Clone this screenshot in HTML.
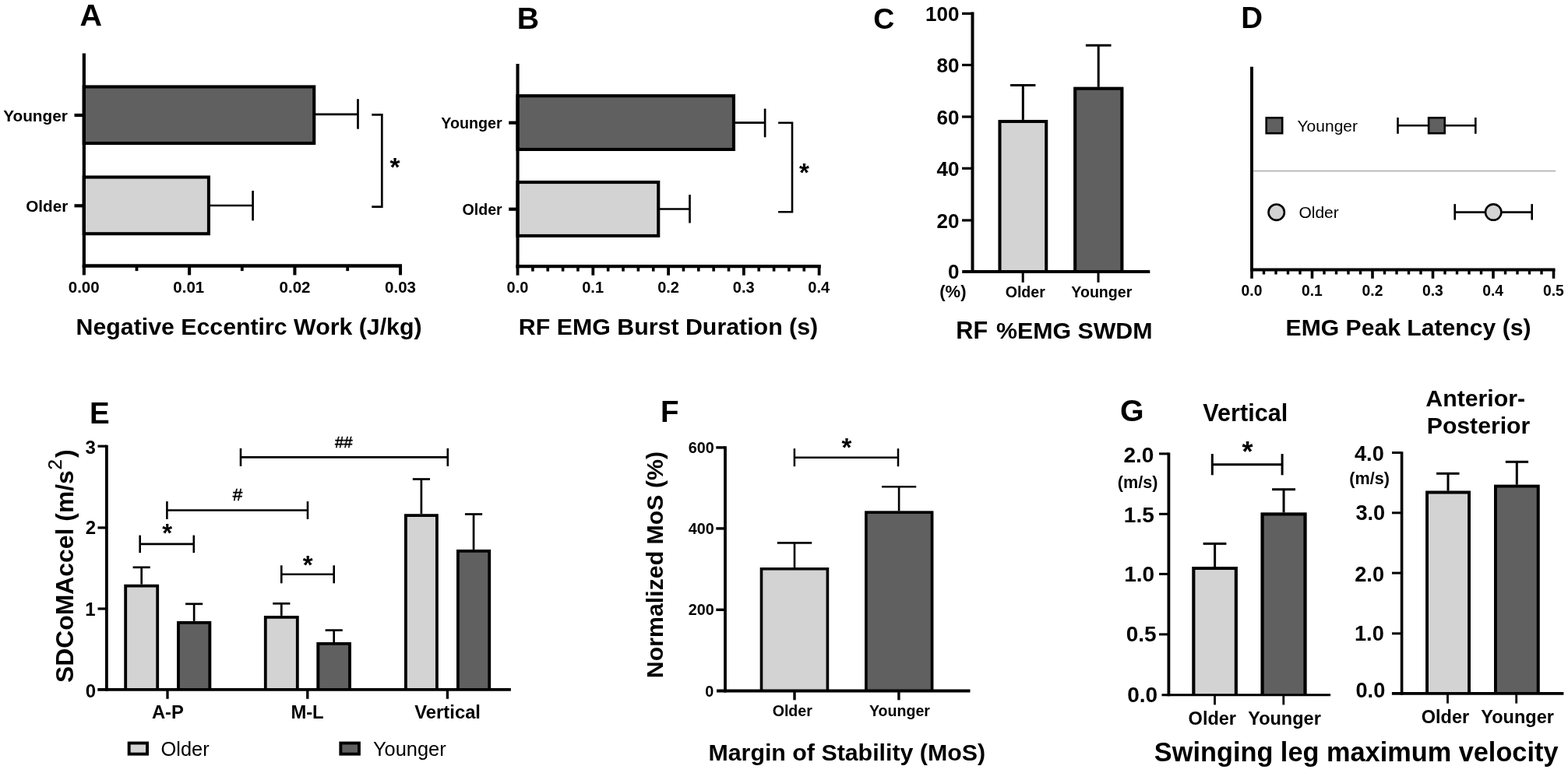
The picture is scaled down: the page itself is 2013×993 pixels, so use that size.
<!DOCTYPE html>
<html><head><meta charset="utf-8"><title>Figure</title>
<style>html,body{margin:0;padding:0;background:#fff;}svg{display:block;}</style></head>
<body><svg width="2013" height="993" viewBox="0 0 2013 993" font-family="Liberation Sans, Arial, Helvetica, sans-serif" fill="#000">
<rect x="0" y="0" width="2013" height="993" fill="#fff"/>
<text x="102.51" y="33.00" font-size="39.50" font-weight="bold">A</text>
<rect x="107.75" y="111.45" width="295.50" height="72.60" fill="#606060" stroke="#000" stroke-width="4.1"/>
<rect x="107.75" y="227.55" width="160.20" height="72.70" fill="#d3d3d3" stroke="#000" stroke-width="4.1"/>
<line x1="405.00" y1="146.90" x2="459.50" y2="146.90" stroke="#000" stroke-width="2.7" stroke-linecap="butt"/>
<line x1="459.50" y1="127.20" x2="459.50" y2="165.70" stroke="#000" stroke-width="2.7" stroke-linecap="butt"/>
<line x1="270.00" y1="264.00" x2="324.60" y2="264.00" stroke="#000" stroke-width="2.7" stroke-linecap="butt"/>
<line x1="324.60" y1="245.00" x2="324.60" y2="283.40" stroke="#000" stroke-width="2.7" stroke-linecap="butt"/>
<line x1="107.85" y1="68.40" x2="107.85" y2="343.90" stroke="#000" stroke-width="4.2" stroke-linecap="butt"/>
<line x1="105.75" y1="341.60" x2="516.00" y2="341.60" stroke="#000" stroke-width="4.5" stroke-linecap="butt"/>
<line x1="107.85" y1="341.60" x2="107.85" y2="353.40" stroke="#000" stroke-width="4.1" stroke-linecap="butt"/>
<line x1="243.10" y1="341.60" x2="243.10" y2="353.40" stroke="#000" stroke-width="4.1" stroke-linecap="butt"/>
<line x1="378.40" y1="341.60" x2="378.40" y2="353.40" stroke="#000" stroke-width="4.1" stroke-linecap="butt"/>
<line x1="514.00" y1="341.60" x2="514.00" y2="353.40" stroke="#000" stroke-width="4.1" stroke-linecap="butt"/>
<line x1="175.50" y1="341.60" x2="175.50" y2="348.10" stroke="#000" stroke-width="3.8" stroke-linecap="butt"/>
<line x1="310.80" y1="341.60" x2="310.80" y2="348.10" stroke="#000" stroke-width="3.8" stroke-linecap="butt"/>
<line x1="446.20" y1="341.60" x2="446.20" y2="348.10" stroke="#000" stroke-width="3.8" stroke-linecap="butt"/>
<line x1="95.50" y1="148.00" x2="107.85" y2="148.00" stroke="#000" stroke-width="4.2" stroke-linecap="butt"/>
<line x1="95.50" y1="264.30" x2="107.85" y2="264.30" stroke="#000" stroke-width="4.2" stroke-linecap="butt"/>
<path d="M477.3 147.4 H490.3 V265.6 H477.3" stroke="#000" stroke-width="2.7" fill="none" stroke-linejoin="miter"/>
<text x="500.42" y="226.15" font-size="33.50" font-weight="bold">*</text>
<text x="4.14" y="156.00" font-size="20.80" font-weight="bold">Younger</text>
<text x="33.17" y="271.70" font-size="20.70" font-weight="bold">Older</text>
<text x="87.76" y="376.30" font-size="20.50" font-weight="bold">0.00</text>
<text x="222.34" y="376.30" font-size="20.50" font-weight="bold">0.01</text>
<text x="358.56" y="376.30" font-size="20.50" font-weight="bold">0.02</text>
<text x="494.11" y="376.30" font-size="20.50" font-weight="bold">0.03</text>
<text x="97.55" y="430.00" font-size="30.30" font-weight="bold">Negative Eccentirc Work (J/kg)</text>
<text x="663.65" y="37.00" font-size="39.30" font-weight="bold">B</text>
<rect x="664.55" y="123.15" width="277.40" height="68.80" fill="#606060" stroke="#000" stroke-width="4.1"/>
<rect x="664.55" y="234.05" width="180.70" height="68.90" fill="#d3d3d3" stroke="#000" stroke-width="4.1"/>
<line x1="944.00" y1="157.60" x2="982.10" y2="157.60" stroke="#000" stroke-width="2.7" stroke-linecap="butt"/>
<line x1="982.10" y1="139.60" x2="982.10" y2="176.30" stroke="#000" stroke-width="2.7" stroke-linecap="butt"/>
<line x1="847.00" y1="268.50" x2="885.50" y2="268.50" stroke="#000" stroke-width="2.7" stroke-linecap="butt"/>
<line x1="885.50" y1="250.20" x2="885.50" y2="286.50" stroke="#000" stroke-width="2.7" stroke-linecap="butt"/>
<line x1="664.55" y1="82.00" x2="664.55" y2="344.60" stroke="#000" stroke-width="4.1" stroke-linecap="butt"/>
<line x1="662.50" y1="342.20" x2="1053.80" y2="342.20" stroke="#000" stroke-width="4.3" stroke-linecap="butt"/>
<line x1="664.55" y1="342.20" x2="664.55" y2="353.70" stroke="#000" stroke-width="3.8" stroke-linecap="butt"/>
<line x1="761.32" y1="342.20" x2="761.32" y2="353.70" stroke="#000" stroke-width="3.8" stroke-linecap="butt"/>
<line x1="858.09" y1="342.20" x2="858.09" y2="353.70" stroke="#000" stroke-width="3.8" stroke-linecap="butt"/>
<line x1="954.86" y1="342.20" x2="954.86" y2="353.70" stroke="#000" stroke-width="3.8" stroke-linecap="butt"/>
<line x1="1051.63" y1="342.20" x2="1051.63" y2="353.70" stroke="#000" stroke-width="3.8" stroke-linecap="butt"/>
<line x1="683.90" y1="342.20" x2="683.90" y2="348.60" stroke="#000" stroke-width="3.6" stroke-linecap="butt"/>
<line x1="703.26" y1="342.20" x2="703.26" y2="348.60" stroke="#000" stroke-width="3.6" stroke-linecap="butt"/>
<line x1="722.61" y1="342.20" x2="722.61" y2="348.60" stroke="#000" stroke-width="3.6" stroke-linecap="butt"/>
<line x1="741.97" y1="342.20" x2="741.97" y2="348.60" stroke="#000" stroke-width="3.6" stroke-linecap="butt"/>
<line x1="780.67" y1="342.20" x2="780.67" y2="348.60" stroke="#000" stroke-width="3.6" stroke-linecap="butt"/>
<line x1="800.03" y1="342.20" x2="800.03" y2="348.60" stroke="#000" stroke-width="3.6" stroke-linecap="butt"/>
<line x1="819.38" y1="342.20" x2="819.38" y2="348.60" stroke="#000" stroke-width="3.6" stroke-linecap="butt"/>
<line x1="838.74" y1="342.20" x2="838.74" y2="348.60" stroke="#000" stroke-width="3.6" stroke-linecap="butt"/>
<line x1="877.44" y1="342.20" x2="877.44" y2="348.60" stroke="#000" stroke-width="3.6" stroke-linecap="butt"/>
<line x1="896.80" y1="342.20" x2="896.80" y2="348.60" stroke="#000" stroke-width="3.6" stroke-linecap="butt"/>
<line x1="916.15" y1="342.20" x2="916.15" y2="348.60" stroke="#000" stroke-width="3.6" stroke-linecap="butt"/>
<line x1="935.51" y1="342.20" x2="935.51" y2="348.60" stroke="#000" stroke-width="3.6" stroke-linecap="butt"/>
<line x1="974.21" y1="342.20" x2="974.21" y2="348.60" stroke="#000" stroke-width="3.6" stroke-linecap="butt"/>
<line x1="993.57" y1="342.20" x2="993.57" y2="348.60" stroke="#000" stroke-width="3.6" stroke-linecap="butt"/>
<line x1="1012.92" y1="342.20" x2="1012.92" y2="348.60" stroke="#000" stroke-width="3.6" stroke-linecap="butt"/>
<line x1="1032.28" y1="342.20" x2="1032.28" y2="348.60" stroke="#000" stroke-width="3.6" stroke-linecap="butt"/>
<line x1="653.20" y1="157.70" x2="664.55" y2="157.70" stroke="#000" stroke-width="4.2" stroke-linecap="butt"/>
<line x1="653.20" y1="268.70" x2="664.55" y2="268.70" stroke="#000" stroke-width="4.2" stroke-linecap="butt"/>
<path d="M999.1 157.7 H1017.0 V272.3 H999.1" stroke="#000" stroke-width="2.6" fill="none" stroke-linejoin="miter"/>
<text x="1026.02" y="232.80" font-size="33.00" font-weight="bold">*</text>
<text x="566.26" y="165.00" font-size="19.70" font-weight="bold">Younger</text>
<text x="593.52" y="275.80" font-size="19.60" font-weight="bold">Older</text>
<text x="650.60" y="375.60" font-size="20.00" font-weight="bold">0.0</text>
<text x="747.25" y="375.60" font-size="20.00" font-weight="bold">0.1</text>
<text x="844.14" y="375.60" font-size="20.00" font-weight="bold">0.2</text>
<text x="940.86" y="375.60" font-size="20.00" font-weight="bold">0.3</text>
<text x="1037.33" y="375.60" font-size="20.00" font-weight="bold">0.4</text>
<text x="665.85" y="429.80" font-size="30.35" font-weight="bold">RF EMG Burst Duration (s)</text>
<text x="1121.20" y="37.00" font-size="37.50" font-weight="bold">C</text>
<rect x="1281.50" y="153.90" width="63.70" height="195.10" fill="#d3d3d3"/>
<path d="M1283.50 349.00 V155.90 H1343.20 V349.00" fill="none" stroke="#000" stroke-width="4.0" stroke-linejoin="miter"/>
<rect x="1378.20" y="111.80" width="64.10" height="237.20" fill="#606060"/>
<path d="M1380.20 349.00 V113.80 H1440.30 V349.00" fill="none" stroke="#000" stroke-width="4.0" stroke-linejoin="miter"/>
<line x1="1313.30" y1="153.90" x2="1313.30" y2="109.50" stroke="#000" stroke-width="3.0" stroke-linecap="butt"/>
<line x1="1297.10" y1="109.50" x2="1329.40" y2="109.50" stroke="#000" stroke-width="3.0" stroke-linecap="butt"/>
<line x1="1410.20" y1="111.80" x2="1410.20" y2="58.20" stroke="#000" stroke-width="3.0" stroke-linecap="butt"/>
<line x1="1393.90" y1="58.20" x2="1426.50" y2="58.20" stroke="#000" stroke-width="3.0" stroke-linecap="butt"/>
<line x1="1248.50" y1="15.60" x2="1248.50" y2="350.90" stroke="#000" stroke-width="4.0" stroke-linecap="butt"/>
<line x1="1235.20" y1="349.00" x2="1476.30" y2="349.00" stroke="#000" stroke-width="3.8" stroke-linecap="butt"/>
<line x1="1235.00" y1="17.40" x2="1248.50" y2="17.40" stroke="#000" stroke-width="3.2" stroke-linecap="butt"/>
<text x="1187.98" y="27.07" font-size="26.00" font-weight="bold">100</text>
<line x1="1235.00" y1="83.50" x2="1248.50" y2="83.50" stroke="#000" stroke-width="3.2" stroke-linecap="butt"/>
<text x="1202.48" y="93.17" font-size="26.00" font-weight="bold">80</text>
<line x1="1235.00" y1="150.00" x2="1248.50" y2="150.00" stroke="#000" stroke-width="3.2" stroke-linecap="butt"/>
<text x="1202.48" y="159.67" font-size="26.00" font-weight="bold">60</text>
<line x1="1235.00" y1="216.30" x2="1248.50" y2="216.30" stroke="#000" stroke-width="3.2" stroke-linecap="butt"/>
<text x="1202.48" y="225.97" font-size="26.00" font-weight="bold">40</text>
<line x1="1235.00" y1="283.00" x2="1248.50" y2="283.00" stroke="#000" stroke-width="3.2" stroke-linecap="butt"/>
<text x="1202.48" y="292.67" font-size="26.00" font-weight="bold">20</text>
<text x="1217.01" y="358.00" font-size="26.00" font-weight="bold">0</text>
<line x1="1313.20" y1="349.00" x2="1313.20" y2="362.80" stroke="#000" stroke-width="3.0" stroke-linecap="butt"/>
<line x1="1410.00" y1="349.00" x2="1410.00" y2="362.80" stroke="#000" stroke-width="3.0" stroke-linecap="butt"/>
<text x="1206.30" y="382.15" font-size="22.00" font-weight="bold">(%)</text>
<text x="1290.65" y="382.10" font-size="19.60" font-weight="bold">Older</text>
<text x="1375.30" y="382.10" font-size="19.60" font-weight="bold">Younger</text>
<text x="1227.33" y="434.50" font-size="30.60" font-weight="bold">RF</text>
<text x="1278.94" y="434.50" font-size="30.35" font-weight="bold">%EMG SWDM</text>
<text x="1593.30" y="35.90" font-size="38.50" font-weight="bold">D</text>
<line x1="1609.00" y1="219.70" x2="1997.20" y2="219.70" stroke="#b4b4b4" stroke-width="1.8" stroke-linecap="butt"/>
<line x1="1607.00" y1="85.70" x2="1607.00" y2="348.50" stroke="#000" stroke-width="3.9" stroke-linecap="butt"/>
<line x1="1605.20" y1="346.45" x2="1996.50" y2="346.45" stroke="#000" stroke-width="4.1" stroke-linecap="butt"/>
<line x1="1607.00" y1="346.40" x2="1607.00" y2="357.80" stroke="#000" stroke-width="3.6" stroke-linecap="butt"/>
<line x1="1684.50" y1="346.40" x2="1684.50" y2="357.80" stroke="#000" stroke-width="3.6" stroke-linecap="butt"/>
<line x1="1762.00" y1="346.40" x2="1762.00" y2="357.80" stroke="#000" stroke-width="3.6" stroke-linecap="butt"/>
<line x1="1839.50" y1="346.40" x2="1839.50" y2="357.80" stroke="#000" stroke-width="3.6" stroke-linecap="butt"/>
<line x1="1917.00" y1="346.40" x2="1917.00" y2="357.80" stroke="#000" stroke-width="3.6" stroke-linecap="butt"/>
<line x1="1994.50" y1="346.40" x2="1994.50" y2="357.80" stroke="#000" stroke-width="3.6" stroke-linecap="butt"/>
<line x1="1622.50" y1="346.40" x2="1622.50" y2="352.50" stroke="#000" stroke-width="3.4" stroke-linecap="butt"/>
<line x1="1638.00" y1="346.40" x2="1638.00" y2="352.50" stroke="#000" stroke-width="3.4" stroke-linecap="butt"/>
<line x1="1653.50" y1="346.40" x2="1653.50" y2="352.50" stroke="#000" stroke-width="3.4" stroke-linecap="butt"/>
<line x1="1669.00" y1="346.40" x2="1669.00" y2="352.50" stroke="#000" stroke-width="3.4" stroke-linecap="butt"/>
<line x1="1700.00" y1="346.40" x2="1700.00" y2="352.50" stroke="#000" stroke-width="3.4" stroke-linecap="butt"/>
<line x1="1715.50" y1="346.40" x2="1715.50" y2="352.50" stroke="#000" stroke-width="3.4" stroke-linecap="butt"/>
<line x1="1731.00" y1="346.40" x2="1731.00" y2="352.50" stroke="#000" stroke-width="3.4" stroke-linecap="butt"/>
<line x1="1746.50" y1="346.40" x2="1746.50" y2="352.50" stroke="#000" stroke-width="3.4" stroke-linecap="butt"/>
<line x1="1777.50" y1="346.40" x2="1777.50" y2="352.50" stroke="#000" stroke-width="3.4" stroke-linecap="butt"/>
<line x1="1793.00" y1="346.40" x2="1793.00" y2="352.50" stroke="#000" stroke-width="3.4" stroke-linecap="butt"/>
<line x1="1808.50" y1="346.40" x2="1808.50" y2="352.50" stroke="#000" stroke-width="3.4" stroke-linecap="butt"/>
<line x1="1824.00" y1="346.40" x2="1824.00" y2="352.50" stroke="#000" stroke-width="3.4" stroke-linecap="butt"/>
<line x1="1855.00" y1="346.40" x2="1855.00" y2="352.50" stroke="#000" stroke-width="3.4" stroke-linecap="butt"/>
<line x1="1870.50" y1="346.40" x2="1870.50" y2="352.50" stroke="#000" stroke-width="3.4" stroke-linecap="butt"/>
<line x1="1886.00" y1="346.40" x2="1886.00" y2="352.50" stroke="#000" stroke-width="3.4" stroke-linecap="butt"/>
<line x1="1901.50" y1="346.40" x2="1901.50" y2="352.50" stroke="#000" stroke-width="3.4" stroke-linecap="butt"/>
<line x1="1932.50" y1="346.40" x2="1932.50" y2="352.50" stroke="#000" stroke-width="3.4" stroke-linecap="butt"/>
<line x1="1948.00" y1="346.40" x2="1948.00" y2="352.50" stroke="#000" stroke-width="3.4" stroke-linecap="butt"/>
<line x1="1963.50" y1="346.40" x2="1963.50" y2="352.50" stroke="#000" stroke-width="3.4" stroke-linecap="butt"/>
<line x1="1979.00" y1="346.40" x2="1979.00" y2="352.50" stroke="#000" stroke-width="3.4" stroke-linecap="butt"/>
<line x1="1794.50" y1="161.30" x2="1894.30" y2="161.30" stroke="#000" stroke-width="2.6" stroke-linecap="butt"/>
<line x1="1794.50" y1="151.00" x2="1794.50" y2="171.80" stroke="#000" stroke-width="2.6" stroke-linecap="butt"/>
<line x1="1894.30" y1="151.00" x2="1894.30" y2="171.80" stroke="#000" stroke-width="2.6" stroke-linecap="butt"/>
<rect x="1625.70" y="151.30" width="20.50" height="19.90" fill="#606060" stroke="#000" stroke-width="2.6"/>
<rect x="1834.10" y="151.30" width="20.60" height="19.90" fill="#606060" stroke="#000" stroke-width="2.6"/>
<line x1="1867.70" y1="272.60" x2="1966.70" y2="272.60" stroke="#000" stroke-width="2.6" stroke-linecap="butt"/>
<line x1="1867.70" y1="262.10" x2="1867.70" y2="282.50" stroke="#000" stroke-width="2.6" stroke-linecap="butt"/>
<line x1="1966.70" y1="262.10" x2="1966.70" y2="282.50" stroke="#000" stroke-width="2.6" stroke-linecap="butt"/>
<circle cx="1638.7" cy="272.7" r="10.2" fill="#d3d3d3" stroke="#000" stroke-width="2.6"/>
<circle cx="1917.2" cy="272.6" r="10.2" fill="#d3d3d3" stroke="#000" stroke-width="2.6"/>
<text x="1665.53" y="168.60" font-size="21.00" font-weight="normal">Younger</text>
<text x="1667.40" y="279.80" font-size="21.00" font-weight="normal">Older</text>
<text x="1593.59" y="379.70" font-size="19.30" font-weight="bold">0.0</text>
<text x="1670.97" y="379.70" font-size="19.30" font-weight="bold">0.1</text>
<text x="1748.59" y="379.70" font-size="19.30" font-weight="bold">0.2</text>
<text x="1826.04" y="379.70" font-size="19.30" font-weight="bold">0.3</text>
<text x="1903.25" y="379.70" font-size="19.30" font-weight="bold">0.4</text>
<text x="1980.97" y="379.70" font-size="19.30" font-weight="bold">0.5</text>
<text x="1650.56" y="431.20" font-size="30.15" font-weight="bold">EMG Peak Latency (s)</text>
<text x="115.10" y="544.30" font-size="38.50" font-weight="bold">E</text>
<line x1="181.70" y1="750.80" x2="181.70" y2="728.80" stroke="#000" stroke-width="2.7" stroke-linecap="butt"/>
<line x1="170.60" y1="728.80" x2="192.80" y2="728.80" stroke="#000" stroke-width="2.7" stroke-linecap="butt"/>
<rect x="159.30" y="750.80" width="44.80" height="135.00" fill="#d3d3d3"/>
<path d="M161.20 885.80 V752.70 H202.20 V885.80" fill="none" stroke="#000" stroke-width="3.8" stroke-linejoin="miter"/>
<line x1="249.15" y1="797.90" x2="249.15" y2="775.80" stroke="#000" stroke-width="2.7" stroke-linecap="butt"/>
<line x1="238.05" y1="775.80" x2="260.25" y2="775.80" stroke="#000" stroke-width="2.7" stroke-linecap="butt"/>
<rect x="227.10" y="797.90" width="44.10" height="87.90" fill="#606060"/>
<path d="M229.00 885.80 V799.80 H269.30 V885.80" fill="none" stroke="#000" stroke-width="3.8" stroke-linejoin="miter"/>
<line x1="361.30" y1="790.90" x2="361.30" y2="775.30" stroke="#000" stroke-width="2.7" stroke-linecap="butt"/>
<line x1="350.20" y1="775.30" x2="372.40" y2="775.30" stroke="#000" stroke-width="2.7" stroke-linecap="butt"/>
<rect x="338.90" y="790.90" width="44.80" height="94.90" fill="#d3d3d3"/>
<path d="M340.80 885.80 V792.80 H381.80 V885.80" fill="none" stroke="#000" stroke-width="3.8" stroke-linejoin="miter"/>
<line x1="428.70" y1="825.00" x2="428.70" y2="809.60" stroke="#000" stroke-width="2.7" stroke-linecap="butt"/>
<line x1="417.60" y1="809.60" x2="439.80" y2="809.60" stroke="#000" stroke-width="2.7" stroke-linecap="butt"/>
<rect x="406.50" y="825.00" width="44.40" height="60.80" fill="#606060"/>
<path d="M408.40 885.80 V826.90 H449.00 V885.80" fill="none" stroke="#000" stroke-width="3.8" stroke-linejoin="miter"/>
<line x1="540.90" y1="660.20" x2="540.90" y2="615.50" stroke="#000" stroke-width="2.7" stroke-linecap="butt"/>
<line x1="529.80" y1="615.50" x2="552.00" y2="615.50" stroke="#000" stroke-width="2.7" stroke-linecap="butt"/>
<rect x="519.00" y="660.20" width="43.80" height="225.60" fill="#d3d3d3"/>
<path d="M520.90 885.80 V662.10 H560.90 V885.80" fill="none" stroke="#000" stroke-width="3.8" stroke-linejoin="miter"/>
<line x1="608.05" y1="705.90" x2="608.05" y2="660.50" stroke="#000" stroke-width="2.7" stroke-linecap="butt"/>
<line x1="596.95" y1="660.50" x2="619.15" y2="660.50" stroke="#000" stroke-width="2.7" stroke-linecap="butt"/>
<rect x="586.00" y="705.90" width="44.10" height="179.90" fill="#606060"/>
<path d="M587.90 885.80 V707.80 H628.20 V885.80" fill="none" stroke="#000" stroke-width="3.8" stroke-linejoin="miter"/>
<line x1="136.90" y1="571.80" x2="136.90" y2="887.70" stroke="#000" stroke-width="3.8" stroke-linecap="butt"/>
<line x1="125.30" y1="885.80" x2="655.90" y2="885.80" stroke="#000" stroke-width="3.8" stroke-linecap="butt"/>
<line x1="125.50" y1="573.20" x2="136.90" y2="573.20" stroke="#000" stroke-width="3.2" stroke-linecap="butt"/>
<line x1="125.50" y1="677.90" x2="136.90" y2="677.90" stroke="#000" stroke-width="3.2" stroke-linecap="butt"/>
<line x1="125.50" y1="782.00" x2="136.90" y2="782.00" stroke="#000" stroke-width="3.2" stroke-linecap="butt"/>
<line x1="215.00" y1="885.80" x2="215.00" y2="897.80" stroke="#000" stroke-width="3.3" stroke-linecap="butt"/>
<line x1="394.80" y1="885.80" x2="394.80" y2="897.80" stroke="#000" stroke-width="3.3" stroke-linecap="butt"/>
<line x1="574.40" y1="885.80" x2="574.40" y2="897.80" stroke="#000" stroke-width="3.3" stroke-linecap="butt"/>
<line x1="179.70" y1="698.90" x2="248.80" y2="698.90" stroke="#000" stroke-width="2.6" stroke-linecap="butt"/>
<line x1="179.70" y1="687.60" x2="179.70" y2="710.20" stroke="#000" stroke-width="2.6" stroke-linecap="butt"/>
<line x1="248.80" y1="687.60" x2="248.80" y2="710.20" stroke="#000" stroke-width="2.6" stroke-linecap="butt"/>
<line x1="361.30" y1="737.80" x2="428.70" y2="737.80" stroke="#000" stroke-width="2.6" stroke-linecap="butt"/>
<line x1="361.30" y1="726.30" x2="361.30" y2="749.30" stroke="#000" stroke-width="2.6" stroke-linecap="butt"/>
<line x1="428.70" y1="726.30" x2="428.70" y2="749.30" stroke="#000" stroke-width="2.6" stroke-linecap="butt"/>
<line x1="214.40" y1="655.50" x2="395.00" y2="655.50" stroke="#000" stroke-width="2.6" stroke-linecap="butt"/>
<line x1="214.40" y1="644.10" x2="214.40" y2="666.90" stroke="#000" stroke-width="2.6" stroke-linecap="butt"/>
<line x1="395.00" y1="644.10" x2="395.00" y2="666.90" stroke="#000" stroke-width="2.6" stroke-linecap="butt"/>
<line x1="309.00" y1="587.40" x2="574.80" y2="587.40" stroke="#000" stroke-width="2.6" stroke-linecap="butt"/>
<line x1="309.00" y1="575.90" x2="309.00" y2="598.90" stroke="#000" stroke-width="2.6" stroke-linecap="butt"/>
<line x1="574.80" y1="575.90" x2="574.80" y2="598.90" stroke="#000" stroke-width="2.6" stroke-linecap="butt"/>
<text x="208.22" y="696.39" font-size="33.00" font-weight="bold">*</text>
<text x="388.72" y="736.60" font-size="33.00" font-weight="bold">*</text>
<text x="298.79" y="643.00" font-size="22.50" font-weight="normal" stroke="#000" stroke-width="0.5">#</text>
<text x="429.90" y="575.20" font-size="20.40" font-weight="normal" stroke="#000" stroke-width="0.5">##</text>
<text x="109.52" y="582.60" font-size="24.00" font-weight="bold">3</text>
<text x="109.64" y="686.30" font-size="24.00" font-weight="bold">2</text>
<text x="109.34" y="790.70" font-size="24.00" font-weight="bold">1</text>
<text x="109.64" y="896.00" font-size="24.00" font-weight="bold">0</text>
<text x="194.91" y="922.50" font-size="23.80" font-weight="bold">A-P</text>
<text x="373.39" y="922.50" font-size="23.80" font-weight="bold">M-L</text>
<text x="532.32" y="922.50" font-size="23.80" font-weight="bold">Vertical</text>
<rect x="165.65" y="954.55" width="23.40" height="14.10" fill="#d3d3d3" stroke="#000" stroke-width="3.9"/>
<rect x="437.35" y="954.55" width="23.60" height="14.10" fill="#606060" stroke="#000" stroke-width="3.9"/>
<text x="206.59" y="970.90" font-size="25.40" font-weight="normal">Older</text>
<text x="479.03" y="970.90" font-size="25.40" font-weight="normal">Younger</text>
<text transform="translate(94.4 877.06) rotate(-90)" font-size="31.9" font-weight="bold">SDCoMAccel (m/s<tspan font-weight="normal" font-size="24" dx="0.6" dy="-15.4" stroke="#000" stroke-width="0.3">2</tspan><tspan dx="2.2" dy="15.4">)</tspan></text>
<text x="848.00" y="541.80" font-size="38.50" font-weight="bold">F</text>
<rect x="975.70" y="729.00" width="88.50" height="158.50" fill="#d3d3d3"/>
<path d="M977.50 887.50 V730.80 H1062.40 V887.50" fill="none" stroke="#000" stroke-width="3.6" stroke-linejoin="miter"/>
<rect x="1110.10" y="656.50" width="88.20" height="231.00" fill="#606060"/>
<path d="M1111.90 887.50 V658.30 H1196.50 V887.50" fill="none" stroke="#000" stroke-width="3.6" stroke-linejoin="miter"/>
<line x1="1020.00" y1="729.00" x2="1020.00" y2="697.40" stroke="#000" stroke-width="2.6" stroke-linecap="butt"/>
<line x1="997.80" y1="697.40" x2="1042.20" y2="697.40" stroke="#000" stroke-width="2.6" stroke-linecap="butt"/>
<line x1="1154.10" y1="656.50" x2="1154.10" y2="625.20" stroke="#000" stroke-width="2.6" stroke-linecap="butt"/>
<line x1="1132.00" y1="625.20" x2="1176.20" y2="625.20" stroke="#000" stroke-width="2.6" stroke-linecap="butt"/>
<line x1="931.00" y1="573.30" x2="931.00" y2="889.50" stroke="#000" stroke-width="3.8" stroke-linecap="butt"/>
<line x1="920.00" y1="887.50" x2="1245.50" y2="887.50" stroke="#000" stroke-width="4.1" stroke-linecap="butt"/>
<line x1="919.30" y1="574.90" x2="931.00" y2="574.90" stroke="#000" stroke-width="3.4" stroke-linecap="butt"/>
<text x="883.78" y="581.90" font-size="19.80" font-weight="bold">600</text>
<line x1="919.30" y1="678.90" x2="931.00" y2="678.90" stroke="#000" stroke-width="3.4" stroke-linecap="butt"/>
<text x="883.78" y="685.90" font-size="19.80" font-weight="bold">400</text>
<line x1="919.30" y1="783.30" x2="931.00" y2="783.30" stroke="#000" stroke-width="3.4" stroke-linecap="butt"/>
<text x="883.78" y="790.30" font-size="19.80" font-weight="bold">200</text>
<text x="905.30" y="895.30" font-size="19.80" font-weight="bold">0</text>
<line x1="1020.00" y1="887.50" x2="1020.00" y2="899.30" stroke="#000" stroke-width="3.4" stroke-linecap="butt"/>
<line x1="1153.90" y1="887.50" x2="1153.90" y2="899.30" stroke="#000" stroke-width="3.4" stroke-linecap="butt"/>
<line x1="1019.90" y1="587.70" x2="1153.00" y2="587.70" stroke="#000" stroke-width="2.5" stroke-linecap="butt"/>
<line x1="1019.90" y1="576.20" x2="1019.90" y2="599.20" stroke="#000" stroke-width="2.5" stroke-linecap="butt"/>
<line x1="1153.00" y1="576.20" x2="1153.00" y2="599.20" stroke="#000" stroke-width="2.5" stroke-linecap="butt"/>
<text x="1080.62" y="586.19" font-size="33.00" font-weight="bold">*</text>
<text x="991.70" y="920.30" font-size="19.60" font-weight="bold">Older</text>
<text x="1115.90" y="920.30" font-size="19.60" font-weight="bold">Younger</text>
<text x="909.45" y="977.40" font-size="30.35" font-weight="bold">Margin of Stability (MoS)</text>
<text transform="translate(850.8 871.15) rotate(-90)" font-size="30.3" font-weight="bold">Normalized MoS (%)</text>
<text x="1438.03" y="540.60" font-size="39.30" font-weight="bold">G</text>
<rect x="1530.30" y="728.00" width="58.60" height="164.80" fill="#d3d3d3"/>
<path d="M1532.35 892.80 V730.05 H1586.85 V892.80" fill="none" stroke="#000" stroke-width="4.1" stroke-linejoin="miter"/>
<rect x="1618.60" y="658.50" width="58.90" height="234.30" fill="#606060"/>
<path d="M1620.65 892.80 V660.55 H1675.45 V892.80" fill="none" stroke="#000" stroke-width="4.1" stroke-linejoin="miter"/>
<line x1="1559.60" y1="728.00" x2="1559.60" y2="698.40" stroke="#000" stroke-width="3.0" stroke-linecap="butt"/>
<line x1="1544.60" y1="698.40" x2="1574.40" y2="698.40" stroke="#000" stroke-width="3.0" stroke-linecap="butt"/>
<line x1="1648.05" y1="658.50" x2="1648.05" y2="628.70" stroke="#000" stroke-width="3.0" stroke-linecap="butt"/>
<line x1="1633.10" y1="628.70" x2="1663.00" y2="628.70" stroke="#000" stroke-width="3.0" stroke-linecap="butt"/>
<line x1="1500.40" y1="581.40" x2="1500.40" y2="894.20" stroke="#000" stroke-width="3.8" stroke-linecap="butt"/>
<line x1="1491.50" y1="892.80" x2="1708.10" y2="892.80" stroke="#000" stroke-width="3.0" stroke-linecap="butt"/>
<line x1="1488.00" y1="582.90" x2="1500.40" y2="582.90" stroke="#000" stroke-width="3.0" stroke-linecap="butt"/>
<line x1="1488.00" y1="660.30" x2="1500.40" y2="660.30" stroke="#000" stroke-width="3.0" stroke-linecap="butt"/>
<line x1="1488.00" y1="737.40" x2="1500.40" y2="737.40" stroke="#000" stroke-width="3.0" stroke-linecap="butt"/>
<line x1="1488.00" y1="814.90" x2="1500.40" y2="814.90" stroke="#000" stroke-width="3.0" stroke-linecap="butt"/>
<text x="1442.42" y="594.20" font-size="28.00" font-weight="bold">2.0</text>
<text x="1442.85" y="670.80" font-size="28.00" font-weight="bold">1.5</text>
<text x="1443.15" y="746.90" font-size="28.00" font-weight="bold">1.0</text>
<text x="1445.78" y="824.40" font-size="28.00" font-weight="bold">0.5</text>
<text x="1447.18" y="901.90" font-size="28.00" font-weight="bold">0.0</text>
<line x1="1559.50" y1="892.80" x2="1559.50" y2="905.40" stroke="#000" stroke-width="2.8" stroke-linecap="butt"/>
<line x1="1647.80" y1="892.80" x2="1647.80" y2="905.40" stroke="#000" stroke-width="2.8" stroke-linecap="butt"/>
<line x1="1556.30" y1="596.70" x2="1646.10" y2="596.70" stroke="#000" stroke-width="3.0" stroke-linecap="butt"/>
<line x1="1556.30" y1="583.10" x2="1556.30" y2="610.30" stroke="#000" stroke-width="3.0" stroke-linecap="butt"/>
<line x1="1646.10" y1="583.10" x2="1646.10" y2="610.30" stroke="#000" stroke-width="3.0" stroke-linecap="butt"/>
<text x="1594.41" y="593.44" font-size="36.00" font-weight="bold">*</text>
<text x="1434.82" y="627.26" font-size="21.60" font-weight="bold">(m/s)</text>
<text x="1544.37" y="541.40" font-size="30.60" font-weight="bold">Vertical</text>
<text x="1525.61" y="930.80" font-size="23.50" font-weight="bold">Older</text>
<text x="1602.23" y="930.80" font-size="23.50" font-weight="bold">Younger</text>
<rect x="1830.10" y="630.60" width="57.90" height="260.30" fill="#d3d3d3"/>
<path d="M1832.05 890.90 V632.55 H1886.05 V890.90" fill="none" stroke="#000" stroke-width="3.9" stroke-linejoin="miter"/>
<rect x="1918.00" y="622.70" width="58.60" height="268.20" fill="#606060"/>
<path d="M1919.95 890.90 V624.65 H1974.65 V890.90" fill="none" stroke="#000" stroke-width="3.9" stroke-linejoin="miter"/>
<line x1="1859.00" y1="630.60" x2="1859.00" y2="608.30" stroke="#000" stroke-width="3.0" stroke-linecap="butt"/>
<line x1="1844.10" y1="608.30" x2="1873.50" y2="608.30" stroke="#000" stroke-width="3.0" stroke-linecap="butt"/>
<line x1="1947.30" y1="622.70" x2="1947.30" y2="593.30" stroke="#000" stroke-width="3.0" stroke-linecap="butt"/>
<line x1="1932.80" y1="593.30" x2="1962.10" y2="593.30" stroke="#000" stroke-width="3.0" stroke-linecap="butt"/>
<line x1="1799.60" y1="580.20" x2="1799.60" y2="892.80" stroke="#000" stroke-width="3.6" stroke-linecap="butt"/>
<line x1="1786.90" y1="890.90" x2="2007.40" y2="890.90" stroke="#000" stroke-width="3.8" stroke-linecap="butt"/>
<line x1="1787.00" y1="581.50" x2="1799.60" y2="581.50" stroke="#000" stroke-width="3.0" stroke-linecap="butt"/>
<line x1="1787.00" y1="658.80" x2="1799.60" y2="658.80" stroke="#000" stroke-width="3.0" stroke-linecap="butt"/>
<line x1="1787.00" y1="736.10" x2="1799.60" y2="736.10" stroke="#000" stroke-width="3.0" stroke-linecap="butt"/>
<line x1="1787.00" y1="813.80" x2="1799.60" y2="813.80" stroke="#000" stroke-width="3.0" stroke-linecap="butt"/>
<text x="1738.99" y="592.00" font-size="27.20" font-weight="bold">4.0</text>
<text x="1740.39" y="668.30" font-size="27.20" font-weight="bold">3.0</text>
<text x="1739.25" y="746.90" font-size="27.20" font-weight="bold">2.0</text>
<text x="1739.00" y="822.90" font-size="27.20" font-weight="bold">1.0</text>
<text x="1740.51" y="896.00" font-size="27.20" font-weight="bold">0.0</text>
<line x1="1858.50" y1="890.90" x2="1858.50" y2="903.60" stroke="#000" stroke-width="2.8" stroke-linecap="butt"/>
<line x1="1946.70" y1="890.90" x2="1946.70" y2="903.60" stroke="#000" stroke-width="2.8" stroke-linecap="butt"/>
<text x="1732.32" y="621.96" font-size="21.60" font-weight="bold">(m/s)</text>
<text x="1830.34" y="522.00" font-size="30.25" font-weight="bold">Anterior-</text>
<text x="1831.76" y="556.50" font-size="30.20" font-weight="bold">Posterior</text>
<text x="1824.76" y="928.90" font-size="23.50" font-weight="bold">Older</text>
<text x="1901.33" y="928.90" font-size="23.50" font-weight="bold">Younger</text>
<text x="1481.87" y="978.30" font-size="34.32" font-weight="bold">Swinging leg maximum velocity</text>
</svg></body></html>
